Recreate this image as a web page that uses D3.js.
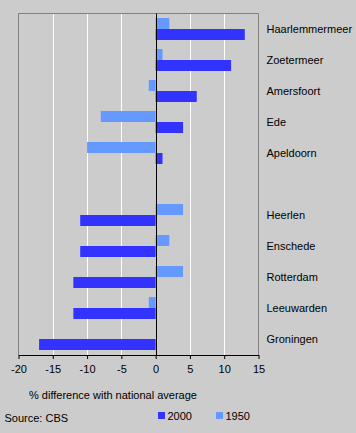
<!DOCTYPE html>
<html>
<head>
<meta charset="utf-8">
<script src="https://cdn.jsdelivr.net/npm/d3@7"></script>
<style>
  html, body { margin: 0; padding: 0; background: #cccccc; }
  svg { display: block; }
  text { font-family: "Liberation Sans", Arial, sans-serif; font-size: 11px; fill: #000; }
</style>
</head>
<body>
<svg id="chart" width="356" height="433"></svg>
<script>
const categories = ["Haarlemmermeer", "Zoetermeer", "Amersfoort", "Ede", "Apeldoorn", "", "Heerlen", "Enschede", "Rotterdam", "Leeuwarden", "Groningen"];
const values1950 = [2, 1, -1, -8, -10, null, 4, 2, 4, -1, 0];
const values2000 = [13, 11, 6, 4, 1, null, -11, -11, -12, -12, -17];
const xTicks = [-20, -15, -10, -5, 0, 5, 10, 15];
const seriesNames = ["2000", "1950"];
const colors = { "2000": "#3333ff", "1950": "#6699ff" };

(function () {
const svg = d3.select("#chart");
const pLeft = 18.5, pRight = 258.5, pTop = 13.5, pBottom = 355;

const x = d3.scaleLinear().domain([-20, 15]).range([pLeft, pRight]);
const y = d3.scaleBand().domain(d3.range(categories.length)).range([pTop, pBottom]).paddingInner(0).paddingOuter(0);
const barH = 11;

// gridlines
svg.append("g").selectAll("line").data(xTicks.filter(t => t !== 0 && t !== -20 && t !== 15))
  .join("line")
  .attr("x1", d => Math.round(x(d)) + 0.5).attr("x2", d => Math.round(x(d)) + 0.5)
  .attr("y1", pTop).attr("y2", pBottom)
  .attr("stroke", "#ffffff").attr("stroke-width", 1);

// bars
const gBars = svg.append("g");
categories.forEach((c, i) => {
  const cy = Math.round(y(i) + y.bandwidth() / 2);
  const v50 = values1950[i], v00 = values2000[i];
  if (v50 !== null && v50 !== 0) {
    gBars.append("rect")
      .attr("x", x(Math.min(0, v50))).attr("width", Math.abs(x(v50) - x(0)))
      .attr("y", cy - barH).attr("height", barH)
      .attr("fill", colors["1950"]);
  }
  if (v00 !== null && v00 !== 0) {
    gBars.append("rect")
      .attr("x", x(Math.min(0, v00))).attr("width", Math.abs(x(v00) - x(0)))
      .attr("y", cy).attr("height", barH)
      .attr("fill", colors["2000"]);
  }
});

// frame (left, top, right)
svg.append("path")
  .attr("d", `M${pLeft},${pBottom} V${pTop} H${pRight} V${pBottom}`)
  .attr("fill", "none").attr("stroke", "#808080").attr("stroke-width", 1);

// zero line
svg.append("line")
  .attr("x1", Math.round(x(0)) + 0.5).attr("x2", Math.round(x(0)) + 0.5)
  .attr("y1", pTop).attr("y2", pBottom)
  .attr("stroke", "#000").attr("stroke-width", 1);

// x axis
const xAxis = d3.axisBottom(x).tickValues(xTicks).tickSize(4).tickSizeOuter(0).tickPadding(6).tickFormat(d => String(d));
const gx = svg.append("g").attr("transform", `translate(0,${pBottom})`).call(xAxis);
gx.select(".domain").attr("stroke", "#000");
gx.selectAll(".tick line").attr("stroke", "#000");
gx.selectAll("text").style("font-size", "11px").attr("fill", "#000").attr("font-family", "Liberation Sans, Arial, sans-serif");

// category labels
svg.append("g").selectAll("text").data(categories)
  .join("text")
  .attr("x", 266.5)
  .attr("y", (d, i) => y(i) + y.bandwidth() / 2 + 4)
  .text(d => d);

// axis title
svg.append("text").attr("x", 29).attr("y", 399).text("% difference with national average");
// source
svg.append("text").attr("x", 4.5).attr("y", 421.5).text("Source: CBS");

// legend
const legendX = [158, 216];
seriesNames.forEach((s, i) => {
  svg.append("rect").attr("x", legendX[i]).attr("y", 412).attr("width", 7).attr("height", 7).attr("fill", colors[s]);
  svg.append("text").attr("x", legendX[i] + 9.5).attr("y", 419.5).text(s);
});
})();
</script>
</body>
</html>
